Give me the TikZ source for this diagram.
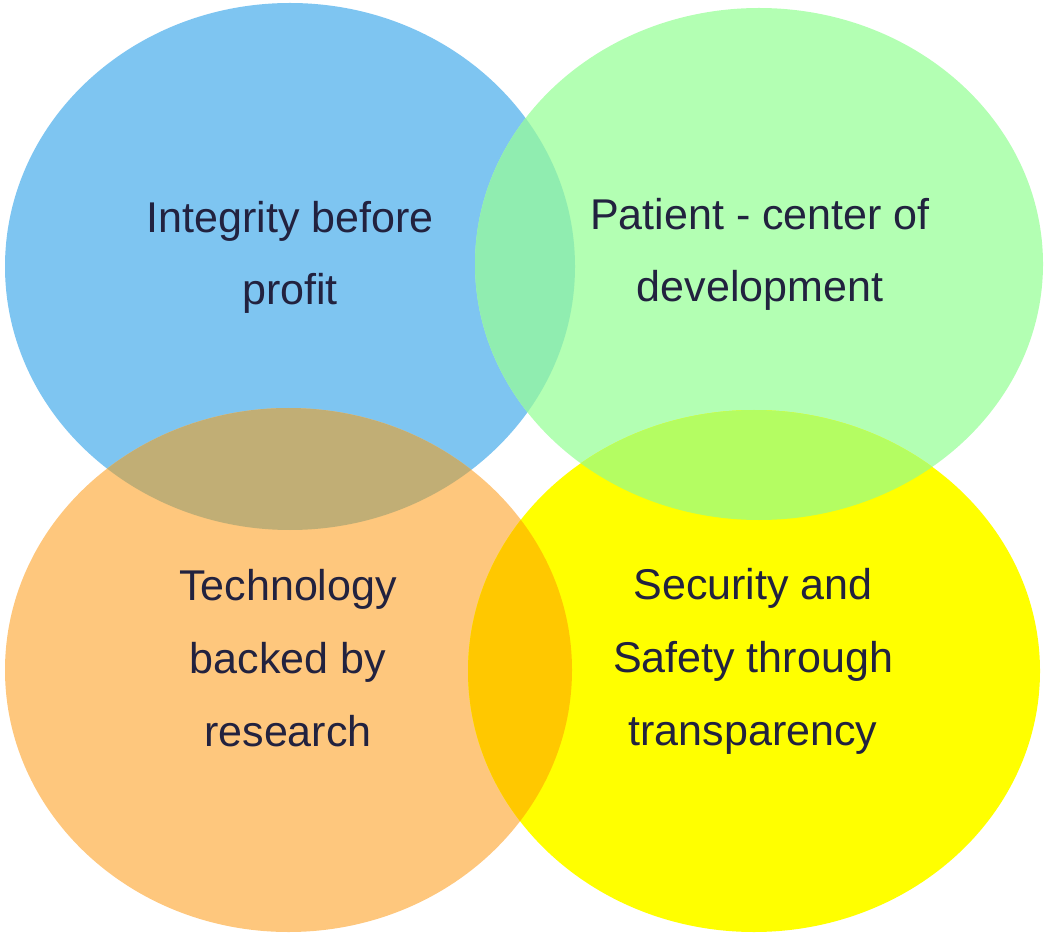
\documentclass[tikz,border=0pt]{standalone}
\usepackage{fontspec}
\setmainfont{Liberation Sans}
\definecolor{blueset}{HTML}{7EC5F1}
\definecolor{greenset}{HTML}{B3FFB3}
\definecolor{orangeset}{HTML}{FEC77D}
\definecolor{yellowset}{HTML}{FFFF00}
\definecolor{bluegreen}{HTML}{90EDB0}
\definecolor{greenyellow}{HTML}{B4FD62}
\definecolor{orangeyellow}{HTML}{FFC800}
\definecolor{blueorange}{HTML}{C1AE75}
\definecolor{labelink}{HTML}{22223F}
\begin{document}
\begin{tikzpicture}[x=0.02cm, y=-0.02cm,
    labelstyle/.style={text=labelink, align=center, anchor=base, inner sep=0pt,
        font=\fontsize{24.5}{41.4}\selectfont}]
    \useasboundingbox (0,0) rectangle (1044,935);
    % Set centres
    \coordinate (blue) at (290,266.5);
    \coordinate (green) at (759,264);
    \coordinate (orange) at (288.5,670);
    \coordinate (yellow) at (754,671);
    \def\blueshape{(blue) ellipse [x radius=285, y radius=263.5]}
    \def\greenshape{(green) ellipse [x radius=284, y radius=256]}
    \def\orangeshape{(orange) ellipse [x radius=283.5, y radius=262]}
    \def\yellowshape{(yellow) ellipse [x radius=286, y radius=261]}
    \fill[blueset] \blueshape;
    \fill[greenset] \greenshape;
    \fill[orangeset] \orangeshape;
    \fill[yellowset] \yellowshape;
    %%%
    % Overlaps
    \begin{scope}
        \clip \blueshape;
        \fill[bluegreen] \greenshape;
        \fill[blueorange] \orangeshape;
    \end{scope}
    \begin{scope}
        \clip \yellowshape;
        \fill[greenyellow] \greenshape;
        \fill[orangeyellow] \orangeshape;
    \end{scope}
    %%%
    % Labels (anchored at the last line)
    \node[labelstyle] (integrity) at (290,305) {Integrity before\\profit};
    \node[labelstyle] (patient) at (760,302) {Patient - center of\\development};
    \node[labelstyle] (technology) at (288,746) {Technology\\backed by\\research};
    \node[labelstyle] (security) at (753,745) {Security and\\Safety through\\transparency};
\end{tikzpicture}
\end{document}
